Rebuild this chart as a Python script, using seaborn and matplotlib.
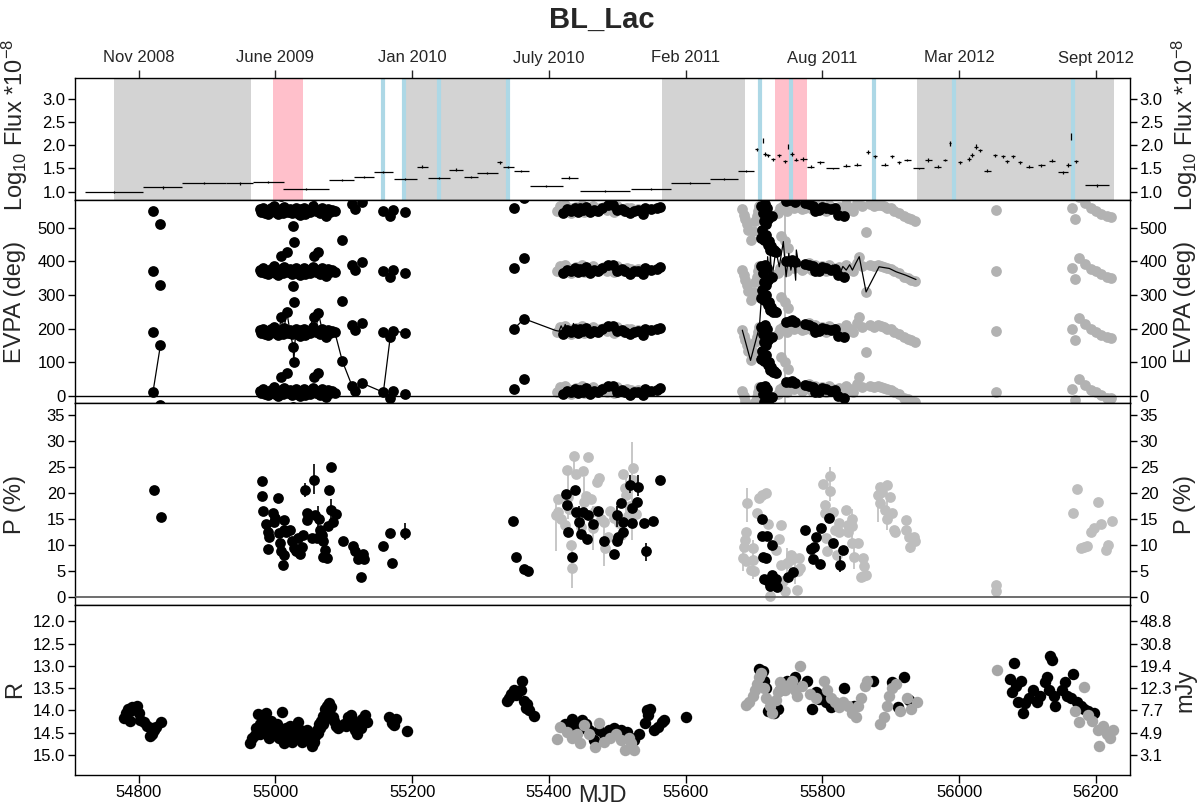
import numpy as np
import pandas as pd
import matplotlib
matplotlib.use("Agg")
import matplotlib.pyplot as plt
import seaborn as sns

# ---------------- axes / labels ----------------
mjd_ticks = [54800, 55000, 55200, 55400, 55600, 55800, 56000, 56200]
date_labels = ["Nov 2008", "June 2009", "Jan 2010", "July 2010",
               "Feb 2011", "Aug 2011", "Mar 2012", "Sept 2012"]
flux_ticks = [1.0, 1.5, 2.0, 2.5, 3.0]
evpa_ticks = [0, 100, 200, 300, 400, 500]
p_ticks = [0, 5, 10, 15, 20, 25, 30, 35]
r_ticks = [12.0, 12.5, 13.0, 13.5, 14.0, 14.5, 15.0]
mjy_labels = ["48.8", "30.8", "19.4", "12.3", "7.7", "4.9", "3.1"]

# ---------------- shaded periods (flux panel) ----------------
grey_start = [54764, 55190, 55566, 55939]
grey_end = [54964, 55339, 55687, 56226]
pink_start = [54996, 55731]
pink_end = [55041, 55778]
blue_lines = [55157, 55188, 55239, 55341, 55709, 55754, 55875, 55992, 56166]

# ---------------- gamma-ray flux ----------------
flux_mjd = [54764, 54835, 54896, 54948, 54990, 55045, 55097, 55130, 55158, 55190, 55215, 55240, 55264,
            55286, 55310, 55328, 55341, 55360, 55396, 55430, 55482, 55549, 55607, 55656, 55688,
            55704, 55713, 55716, 55721, 55728, 55737, 55745, 55750, 55755, 55762, 55772, 55783, 55797,
            55815, 55835, 55851, 55867, 55877, 55891, 55902, 55912, 55924, 55941, 55955, 55969, 55980,
            55987, 56002, 56014, 56019, 56025, 56030, 56041, 56053, 56064, 56070, 56079, 56089, 56103,
            56120, 56136, 56152, 56160, 56164, 56171, 56202]
flux_val = [1.00, 1.09, 1.19, 1.18, 1.21, 1.05, 1.25, 1.31, 1.42, 1.27, 1.54, 1.30, 1.47, 1.31, 1.40,
            1.63, 1.53, 1.45, 1.13, 1.30, 1.01, 1.06, 1.19, 1.27, 1.44,
            1.91, 2.10, 1.81, 1.78, 1.70, 1.78, 1.65, 1.97, 1.81, 1.69, 1.71, 1.54, 1.63, 1.50, 1.56,
            1.58, 1.86, 1.76, 1.58, 1.76, 1.63, 1.68, 1.50, 1.68, 1.54, 1.68, 2.04, 1.63, 1.70, 1.79,
            1.97, 1.89, 1.45, 1.78, 1.76, 1.65, 1.76, 1.63, 1.54, 1.57, 1.67, 1.42, 1.58, 2.19, 1.65, 1.14]
flux_half = [42, 29, 32, 20, 22, 34, 18, 15, 14, 17, 8, 16, 10, 10, 15, 4, 8, 11, 24, 12, 37, 29, 29, 20, 12,
             2, 0, 3, 3, 3, 3, 3, 0, 3, 3, 5, 5, 5, 10, 5, 5, 3, 3, 5, 3, 3, 5, 8, 5, 5, 3, 1, 3, 3, 3,
             3, 3, 5, 3, 3, 3, 3, 3, 5, 5, 4, 8, 4, 0, 3, 18]
flux_err = [0.02, 0.03, 0.02, 0.03, 0.02, 0.02, 0.03, 0.02, 0.02, 0.02, 0.03, 0.02, 0.03, 0.02, 0.02,
            0.04, 0.02, 0.02, 0.02, 0.03, 0.02, 0.02, 0.02, 0.02, 0.02,
            0.04, 0.06, 0.04, 0.04, 0.03, 0.04, 0.04, 0.05, 0.04, 0.04, 0.04, 0.03, 0.03, 0.02, 0.03,
            0.03, 0.04, 0.04, 0.03, 0.04, 0.03, 0.03, 0.02, 0.04, 0.03, 0.03, 0.05, 0.03, 0.04, 0.04,
            0.05, 0.04, 0.03, 0.04, 0.04, 0.04, 0.04, 0.04, 0.03, 0.03, 0.03, 0.03, 0.04, 0.08, 0.04, 0.03]

# ---------------- EVPA (degrees, modulo 180) ----------------
evpa_b_mjd = [54821, 54832,
              54977, 54979, 54982, 54985, 54988, 54990, 54993, 54996, 54998, 55000, 55002, 55004, 55006,
              55008, 55009, 55011, 55013, 55015, 55017, 55019, 55021, 55024, 55026, 55027, 55028, 55030,
              55032, 55034, 55036, 55038, 55040, 55042, 55044, 55047, 55050, 55052, 55055, 55057, 55059,
              55062, 55063, 55065, 55068, 55071, 55074, 55077, 55080, 55083, 55087, 55098, 55112, 55117,
              55127, 55158, 55168, 55172, 55190,
              55349, 55364, 55420, 55426, 55432, 55438, 55442, 55446, 55450, 55455, 55460, 55466, 55472,
              55478, 55486, 55494, 55500, 55507, 55512, 55518, 55524, 55530, 55538, 55541, 55550, 55558, 55563,
              55710, 55711, 55712, 55713, 55714, 55715, 55716, 55717, 55718, 55719, 55720, 55721, 55722,
              55724, 55725, 55726, 55728, 55730, 55732, 55747, 55752, 55756, 55760, 55775, 55780, 55786,
              55790, 55795, 55800, 55806, 55812, 55818, 55823, 55832]
evpa_b = [10, 151,
          15, 8, 20, 5, 12, 2, 18, 10, 25, 6, 14, 0, 9, 17, 55, 4, 22, 11, 68, 7, 16, 3, 146, 99, 12, 20,
          5, 10, 178, 15, 8, 19, 2, 12, 6, 17, 24, 55, 9, 14, 67, 3, 20, 11, 176, 16, 7, 13, 9, 103, 30, 15,
          37, 10, 174, 14, 6,
          19, 49, 5, 15, 10, 20, 8, 18, 12, 22, 6, 14, 10, 20, 28, 28, 12, 17, 10, 3, 10, 12, 2, 20, 15, 18, 22,
          25, 110, 134, 5, 160, 104, 30, 150, 120, 20, 90, 165, 100, 75, 85, 175, 70, 73, 68, 40, 42, 45,
          38, 33, 30, 25, 10, 12, 23, 20, 15, 18, 179, 174]
evpa_g_mjd = [55412, 55416, 55420, 55424, 55428, 55432, 55436, 55440, 55444, 55448, 55452, 55456, 55461,
              55465, 55470, 55475, 55480, 55485, 55490, 55495, 55500, 55505, 55510, 55515, 55520, 55525, 55530,
              55683, 55685, 55687, 55690, 55692, 55695, 55698, 55701, 55704, 55706, 55708, 55735, 55738,
              55740, 55742, 55745, 55748, 55750, 55752, 55755, 55758, 55762, 55766, 55770, 55775, 55780,
              55785, 55790, 55795, 55800, 55805, 55810, 55815, 55820, 55825, 55830, 55835, 55840, 55845,
              55850, 55854, 55858, 55864, 55870, 55875, 55882, 55886, 55890, 55895, 55900, 55905, 55912,
              55920, 55925, 55930, 55936,
              56054, 56165, 56170, 56176, 56184, 56193, 56201, 56208, 56216, 56222]
evpa_g = [10, 25, 15, 28, 20, 5, 18, 22, 12, 28, 8, 20, 15, 25, 10, 18, 22, 12, 20, 8, 25, 15, 10, 20, 18, 12, 16,
          15, 178, 165, 150, 133, 105, 130, 160, 175, 10, 25, 5, 20, 115, 25, 100, 10, 80, 40, 35, 20, 30,
          25, 15, 20, 35, 15, 30, 20, 25, 10, 28, 20, 15, 22, 18, 30, 20, 10, 35, 54, 25, 129, 30, 25, 29,
          27, 24, 20, 18, 11, 5, 174, 170, 165, 161,
          12, 20, 167, 51, 33, 18, 11, 1, 174, 172]
evpa_g_bar_mjd = [55745, 55750, 55740, 55864, 56054, 55854, 55766]
evpa_g_bar_center = [100, 80, 115, 129, 12, 54, 25]
evpa_g_bar_err = [90, 15, 12, 10, 10, 6, 20]

# unwrapped EVPA track (black line), segment id per point
line_seg = [0] * 2 + [1] * 33 + [2] * 32 + [3] * 45
line_mjd = [54821, 54832,
            54977, 54982, 54985, 54988, 54990, 54996, 55000, 55004, 55009, 55011, 55017, 55021, 55026,
            55027, 55030, 55036, 55040, 55047, 55057, 55059, 55063, 55068, 55074, 55080, 55087, 55098,
            55112, 55117, 55127, 55158, 55168, 55172, 55190,
            55349, 55364, 55410, 55415, 55418, 55421, 55424, 55427, 55430, 55433, 55436, 55440, 55443,
            55447, 55450, 55455, 55460, 55465, 55470, 55478, 55485, 55494, 55500, 55507, 55515, 55524,
            55532, 55538, 55545, 55550, 55558, 55563,
            55683, 55695, 55708, 55713, 55715, 55719, 55720, 55723, 55724, 55726, 55730, 55732, 55737,
            55743, 55747, 55751, 55754, 55758, 55761, 55762, 55766, 55771, 55776, 55781, 55786, 55791,
            55796, 55800, 55805, 55810, 55815, 55820, 55825, 55830, 55835, 55840, 55844, 55849, 55854,
            55864, 55883, 55898, 55908, 55922, 55937]
line_evpa = [10, 151,
             195, 200, 185, 192, 182, 190, 186, 180, 235, 184, 248, 196, 146, 99, 200, 178, 188, 192, 235,
             189, 247, 200, 176, 187, 189, 103, 30, 15, 37, 10, 174, 194, 186,
             199, 229, 194, 192, 208, 195, 212, 190, 205, 188, 215, 196, 207, 192, 210, 198, 188, 205, 195,
             200, 208, 205, 195, 197, 190, 190, 185, 182, 190, 195, 198, 202,
             195, 105, 205, 355, 394, 314, 414, 334, 424, 344, 404, 434, 384, 459, 354, 424, 374, 414, 344,
             434, 384, 398, 394, 380, 389, 372, 379, 392, 374, 368, 389, 380, 359, 385, 374, 390, 374, 395,
             414, 309, 384, 379, 369, 359, 346]

# ---------------- polarization degree (%) ----------------
p_b_mjd = [54822, 54833, 54980, 54980, 54982, 54987, 54989, 54991, 54990, 54996, 54998, 55000, 55004,
           55005, 55007, 55008, 55011, 55012, 55013, 55012, 55016, 55022, 55025, 55028, 55030, 55033, 55036,
           55039, 55041, 55044, 55046, 55047, 55053, 55057, 55058, 55061, 55064, 55066, 55068, 55070, 55070,
           55072, 55075, 55077, 55079, 55081, 55082, 55084, 55088, 55099, 55113, 55116, 55121, 55126, 55128,
           55129, 55157, 55168, 55171, 55190,
           55347, 55352, 55363, 55369, 55425, 55426, 55428, 55434, 55438, 55440, 55444, 55447, 55450, 55456,
           55458, 55465, 55472, 55480, 55495, 55499, 55501, 55505, 55499, 55508, 55509, 55518, 55522, 55522,
           55529, 55530, 55539, 55542, 55553, 55562,
           55712, 55712, 55719, 55713, 55718, 55726, 55715, 55720, 55726, 55723, 55732, 55733, 55750, 55757,
           55774, 55783, 55786, 55788, 55791, 55796, 55798, 55810, 55816, 55830, 55826]
p_b = [20.6, 15.4, 22.3, 19.5, 16.6, 14.1, 12.5, 11.5, 9.2, 16.2, 14.5, 15.3, 19.0, 12.3, 10.4, 8.8, 6.1,
       8.1, 14.8, 12.9, 12.6, 12.9, 10.7, 9.4, 8.8, 11.3, 8.3, 9.7, 12.0, 20.6, 16.1, 14.8, 11.3, 22.5, 15.8,
       11.3, 15.0, 12.9, 12.0, 10.7, 7.8, 9.1, 7.5, 13.7, 20.6, 16.7, 25.0, 14.5, 15.9, 10.7, 9.9, 8.8, 7.3,
       3.8, 8.3, 7.4, 9.9, 12.4, 6.6, 12.4,
       14.6, 7.8, 5.5, 5.1, 19.8, 17.7, 12.6, 7.8, 20.6, 16.3, 14.4, 12.1, 16.4, 11.1, 15.7, 14.1, 16.6,
       10.7, 8.3, 10.7, 11.5, 18.0, 15.7, 14.5, 12.6, 21.6, 17.1, 14.2, 18.3, 21.2, 14.2, 8.8, 14.7, 22.6,
       15.0, 11.8, 11.8, 7.8, 7.5, 10.1, 3.4, 3.1, 4.3, 2.2, 3.4, 1.9, 3.8, 4.8, 12.9, 9.3, 7.4, 9.7, 11.6,
       6.4, 13.2, 15.3, 10.5, 9.0, 6.2]
p_g_mjd = [55411, 55413, 55414, 55423, 55426, 55428, 55432, 55434, 55437, 55440, 55450, 55452, 55458,
           55461, 55464, 55470, 55474, 55480, 55482, 55502, 55509, 55512, 55513, 55516, 55523, 55523,
           55418, 55430, 55443, 55447, 55455, 55467, 55476, 55486, 55490, 55495, 55505, 55519, 55527,
           55690, 55689, 55687, 55685, 55684, 55688, 55695, 55698, 55700, 55698, 55708, 55712, 55718, 55705,
           55720, 55724, 55739, 55737, 55732, 55740, 55745, 55743, 55748, 55754, 55752, 55759, 55763, 55765,
           55766, 55768, 55801, 55811, 55811, 55804, 55804, 55806, 55807, 55816, 55818, 55821, 55824, 55825,
           55835, 55837, 55838, 55843, 55844, 55843, 55847, 55852, 55860, 55861, 55860, 55864, 55856, 55882,
           55885, 55888, 55885, 55891, 55894, 55895, 55899, 55902, 55905, 55906, 55922, 55923, 55927, 55928,
           55934, 55936,
           56054, 56054, 56167, 56172, 56178, 56182, 56187, 56193, 56197, 56203, 56208, 56215, 56218, 56224]
p_g = [15.8, 16.4, 18.8, 13.9, 24.4, 19.3, 10.1, 5.6, 27.2, 23.7, 24.2, 18.3, 26.9, 18.8, 13.2, 22.2, 22.8,
       14.5, 9.4, 14.2, 23.7, 20.9, 19.6, 15.5, 24.8, 22.5,
       15.0, 17.0, 16.0, 13.5, 19.5, 16.5, 15.0, 11.5, 16.5, 15.2, 12.0, 17.5, 16.0,
       18.0, 12.6, 11.0, 9.7, 7.5, 6.9, 5.3, 9.4, 5.0, 7.2, 19.0, 19.6, 20.1, 16.1, 14.1, 0.2, 13.9, 11.2,
       9.1, 6.2, 1.1, 3.1, 6.6, 8.1, 7.2, 7.5, 1.3, 5.0, 7.5, 5.6, 21.8, 23.2, 20.4, 17.7, 16.1, 11.3, 8.9,
       16.4, 12.9, 8.1, 14.2, 12.6, 16.7, 13.9, 12.6, 15.0, 13.6, 10.4, 7.8, 10.4, 7.5, 5.9, 4.0, 4.3, 3.8,
       19.6, 21.2, 20.2, 18.0, 16.7, 15.1, 21.5, 19.3, 16.1, 12.9, 12.5, 14.8, 12.9, 11.5, 9.7, 11.5, 10.7,
       2.4, 1.1, 16.1, 20.8, 9.4, 9.7, 9.9, 12.6, 13.2, 18.2, 14.0, 9.1, 10.1, 14.6]
p_b_bar_mjd = [55044, 55057, 55062, 55082, 55190, 55369, 55518, 55530, 55542, 55826, 55444, 55499]
p_b_bar_lo = [19.3, 19.8, 11.0, 14.0, 11.0, 4.0, 20.0, 19.5, 7.0, 4.8, 13.0, 13.5]
p_b_bar_hi = [22.0, 25.6, 17.5, 18.8, 14.2, 5.8, 23.5, 23.5, 10.5, 8.0, 17.5, 17.5]
p_g_bar_mjd = [55411, 55428, 55434, 55437, 55452, 55464, 55480, 55513, 55522, 55684, 55690, 55698, 55748,
               55760, 55811, 55843, 55847, 55882, 55894, 55928]
p_g_bar_lo = [8.8, 15.0, 1.8, 23.5, 14.0, 9.0, 6.0, 15.0, 11.0, 5.0, 14.5, 3.5, 3.5, 2.5, 18.5, 10.0, 5.5,
              14.5, 13.0, 8.5]
p_g_bar_hi = [19.0, 24.0, 9.5, 27.5, 23.0, 17.5, 15.5, 24.0, 29.8, 11.0, 21.0, 11.0, 9.5, 8.5, 25.0, 17.0,
              10.0, 22.0, 18.5, 13.0]

# ---------------- R magnitude ----------------
r_b_mjd = [54779, 54782, 54785, 54788, 54791, 54794, 54797, 54800, 54788, 54802, 54808, 54813, 54816,
           54819, 54819, 54822, 54825, 54833,
           54963, 54966, 54972, 54974, 54977, 54980, 54983, 54986, 54988, 54991, 54994, 54997, 55000, 55002,
           55005, 55008, 55010, 55012, 55015, 55019, 55022, 55025, 55028, 55030, 55033, 55036, 55039, 55042,
           55044, 55047, 55051, 55054, 55058, 55061, 55064, 55067, 55070, 55072, 55075, 55078, 55081, 55084,
           55086, 55089, 55095, 55100, 55107, 55110, 55114, 55117, 55120, 55123, 55127, 55131, 55134,
           54970, 54978, 54984, 54990, 54996, 55003, 55006, 55013, 55017, 55021, 55027, 55032, 55040, 55046,
           55049, 55056, 55062, 55066, 55069, 55073, 55077, 55080, 55092, 55104, 55112, 55118, 55125, 55129,
           55166, 55171, 55174, 55176, 55192,
           55339, 55342, 55344, 55349, 55352, 55354, 55359, 55361, 55363, 55366, 55368, 55371, 55378,
           55424, 55434, 55441, 55449, 55451, 55459, 55466, 55473, 55480, 55488, 55495, 55500, 55505, 55510,
           55515, 55520, 55524, 55532, 55541, 55544, 55545, 55548, 55554, 55559, 55565, 55568, 55600, 55429,
           55455, 55490,
           55707, 55713, 55715, 55718, 55720, 55724, 55729, 55735, 55738, 55743, 55749, 55754, 55760, 55763,
           55777, 55785, 55788, 55791, 55795, 55796, 55799, 55802, 55805, 55813, 55832, 55846, 55874, 55902,
           55910, 55919, 55927,
           56075, 56077, 56080, 56083, 56086, 56091, 56094, 56097, 56102, 56108, 56114, 56119, 56125, 56128,
           56133, 56136, 56131, 56139, 56141, 56150, 56155, 56158, 56164, 56167, 56172, 56178, 56183, 56189,
           56197]
r_b = [14.16, 14.06, 13.97, 14.01, 13.93, 13.97, 13.91, 14.06, 14.23, 14.21, 14.27, 14.36, 14.57, 14.40,
       14.53, 14.44, 14.38, 14.25,
       14.74, 14.61, 14.40, 14.07, 14.53, 14.23, 14.36, 14.06, 14.49, 14.61, 14.23, 14.40, 14.53, 14.31,
       14.61, 14.44, 14.04, 14.74, 14.40, 14.57, 14.36, 14.70, 14.44, 14.57, 14.27, 14.44, 14.70, 14.53,
       14.57, 14.44, 14.66, 14.79, 14.57, 14.44, 14.31, 14.23, 14.13, 13.97, 13.89, 13.84, 13.93, 14.14,
       14.23, 14.36, 14.36, 14.31, 14.14, 14.10, 14.27, 14.44, 14.53, 14.31, 14.19, 14.10, 14.27,
       14.55, 14.30, 14.45, 14.35, 14.55, 14.45, 14.50, 14.55, 14.62, 14.48, 14.58, 14.62, 14.60, 14.62,
       14.52, 14.70, 14.50, 14.40, 14.30, 14.20, 14.05, 13.95, 14.40, 14.35, 14.20, 14.35, 14.40, 14.25,
       14.15, 14.28, 14.33, 14.19, 14.47,
       13.79, 13.72, 13.64, 13.55, 13.66, 13.59, 13.55, 13.34, 13.79, 13.94, 13.85, 13.98, 14.13,
       14.30, 14.19, 14.32, 14.22, 14.40, 14.44, 14.66, 14.44, 14.53, 14.44, 14.40, 14.49, 14.44, 14.53,
       14.49, 14.62, 14.66, 14.53, 14.28, 13.98, 14.11, 13.97, 14.44, 14.38, 14.27, 14.21, 14.14, 14.35,
       14.30, 14.50,
       13.07, 13.11, 13.33, 13.50, 14.02, 13.97, 14.06, 13.97, 13.54, 13.46, 13.33, 13.46, 13.24, 13.46,
       13.33, 13.97, 13.62, 13.59, 13.75, 13.71, 13.70, 13.63, 13.80, 13.93, 13.50, 13.89, 13.33, 13.37,
       13.93, 13.24, 13.76,
       13.29, 13.59, 12.94, 13.46, 13.80, 13.33, 14.06, 13.84, 13.71, 13.54, 13.80, 13.67, 13.37, 13.24,
       12.77, 12.86, 13.54, 13.67, 13.90, 13.54, 13.37, 13.67, 13.71, 13.18, 13.80, 13.90, 13.97, 14.01,
       14.06]
r_g_mjd = [55412, 55417, 55427, 55434, 55441, 55446, 55451, 55459, 55468, 55473, 55480, 55490, 55498,
           55505, 55512, 55517, 55520, 55524,
           55689, 55693, 55699, 55701, 55704, 55707, 55710, 55715, 55718, 55724, 55726, 55732, 55735, 55738,
           55740, 55746, 55752, 55755, 55760, 55767, 55763, 55771, 55782, 55791, 55802, 55807, 55813, 55818,
           55824, 55830, 55838, 55843, 55849, 55852, 55857, 55863, 55866, 55884, 55890, 55894, 55897, 55902,
           55908, 55913, 55924, 55930, 55938,
           56056, 56169, 56175, 56183, 56189, 56194, 56203, 56205, 56211, 56217, 56221, 56225]
r_g = [14.65, 14.37, 14.49, 14.62, 14.53, 14.73, 14.32, 14.53, 14.83, 14.28, 14.70, 14.62, 14.53, 14.66,
       14.88, 14.62, 14.74, 14.88,
       13.87, 13.80, 13.67, 13.54, 13.41, 13.24, 13.16, 13.50, 13.71, 13.89, 14.06, 13.76, 13.59, 13.37,
       13.46, 13.54, 13.41, 13.33, 13.54, 13.01, 13.67, 13.46, 13.63, 13.71, 13.33, 13.54, 13.71, 13.80,
       13.93, 13.80, 13.89, 14.06, 14.14, 13.89, 13.71, 13.46, 13.33, 14.31, 14.14, 13.89, 13.67, 13.50,
       13.41, 14.01, 13.73, 13.97, 13.80,
       13.10, 14.01, 14.27, 13.47, 14.10, 14.23, 14.44, 14.79, 14.36, 14.53, 14.61, 14.44]

# ---------------- style ----------------
sns.set_theme(style="white")
plt.rcParams["font.family"] = ["Liberation Sans", "DejaVu Sans"]
plt.rcParams["mathtext.fontset"] = "custom"
plt.rcParams["mathtext.rm"] = "Liberation Sans"
plt.rcParams["mathtext.it"] = "Liberation Sans:italic"
plt.rcParams["mathtext.bf"] = "Liberation Sans:bold"

W_PX, H_PX = 1199, 806
XMIN, XMAX = 54707, 56250
TICK_FS = 12
LAB_FS = 17
DOT = 60
DOT_R = 68
BLACK = "black"
GREY_E = "#B2B2B2"
GREY_P = "#BEBEBE"
GREY_R = "#A6A6A6"

fig = plt.figure(figsize=(W_PX / 100, H_PX / 100), dpi=100)


def add_panel(top, bottom):
    return fig.add_axes([75 / W_PX, 1 - bottom / H_PX, 1055 / W_PX, (bottom - top) / H_PX])


ax_f = add_panel(78, 200)
ax_e = add_panel(200, 403)
ax_p = add_panel(403, 605)
ax_r = add_panel(605, 775)


def style(ax, yticks, ylim, fmt, right_labels=True):
    ax.set_facecolor("white")
    ax.set_xlim(XMIN, XMAX)
    ax.set_ylim(*ylim)
    ax.set_yticks(yticks)
    ax.set_yticklabels([fmt.format(v) for v in yticks])
    for s in ax.spines.values():
        s.set_color("black")
        s.set_linewidth(1.0)
    ax.tick_params(axis="y", direction="out", length=5, width=1, colors="black",
                   labelsize=TICK_FS, left=True, right=True, labelleft=True,
                   labelright=right_labels, pad=2)
    ax.tick_params(axis="x", bottom=False, top=False, labelbottom=False, labeltop=False)
    ax.set_xlabel("")
    ax.set_ylabel("")
    ax.grid(False)


def side_labels(ax, text, ycenter=0.5, right_text=None):
    ax.text(-60 / 1055, ycenter, text, transform=ax.transAxes, rotation=90,
            ha="center", va="center", fontsize=LAB_FS)
    ax.text(1 + 55 / 1055, ycenter, right_text if right_text else text, transform=ax.transAxes,
            rotation=90, ha="center", va="center", fontsize=LAB_FS)


# ---- flux panel ----
for a, b in zip(grey_start, grey_end):
    ax_f.axvspan(a, b, color="#D3D3D3", lw=0, zorder=0)
for a, b in zip(pink_start, pink_end):
    ax_f.axvspan(a, b, color="#FFC0CB", lw=0, zorder=0.5)
for m in blue_lines:
    ax_f.axvline(m, color="#ADD8E6", lw=3, zorder=1)
ax_f.errorbar(flux_mjd, flux_val, xerr=flux_half, yerr=flux_err, fmt="none",
              ecolor="black", elinewidth=0.9, capsize=0, zorder=3)
style(ax_f, flux_ticks, (0.82, 3.45), "{:.1f}")
ax_f.set_xticks(mjd_ticks)
ax_f.set_xticklabels(date_labels)
ax_f.tick_params(axis="x", top=True, labeltop=True, bottom=False, labelbottom=False,
                 direction="out", length=6, width=1, labelsize=TICK_FS, pad=3)
side_labels(ax_f, "Log$_{10}$ Flux *10$^{-8}$", ycenter=0.62)


# ---- EVPA panel ----
def replicate(mjd, ang):
    parts = [pd.DataFrame({"mjd": mjd, "evpa": np.asarray(ang, float) + 180 * k}) for k in range(-1, 4)]
    return pd.concat(parts, ignore_index=True)


df_eg = replicate(evpa_g_mjd, evpa_g)
df_eb = replicate(evpa_b_mjd, evpa_b)
for k in range(-1, 4):
    ax_e.errorbar(evpa_g_bar_mjd, np.asarray(evpa_g_bar_center) + 180 * k, yerr=evpa_g_bar_err,
                  fmt="none", ecolor=GREY_E, elinewidth=1.2, capsize=0, zorder=1)
sns.scatterplot(data=df_eg, x="mjd", y="evpa", ax=ax_e, color=GREY_E, s=DOT, linewidth=0,
                legend=False, zorder=2)
sns.scatterplot(data=df_eb, x="mjd", y="evpa", ax=ax_e, color=BLACK, s=DOT, linewidth=0,
                legend=False, zorder=3)
df_line = pd.DataFrame({"mjd": line_mjd, "evpa": line_evpa, "seg": line_seg})
sns.lineplot(data=df_line, x="mjd", y="evpa", units="seg", estimator=None, sort=False,
             color="black", lw=0.9, ax=ax_e, legend=False, zorder=4)
ax_e.axhline(0, color="black", lw=1.0, zorder=5)
style(ax_e, evpa_ticks, (-22, 583), "{:d}")
side_labels(ax_e, "EVPA (deg)")

# ---- P panel ----
ax_p.vlines(p_g_bar_mjd, p_g_bar_lo, p_g_bar_hi, color=GREY_P, lw=1.2, zorder=1)
sns.scatterplot(x=p_g_mjd, y=p_g, ax=ax_p, color=GREY_P, s=DOT, linewidth=0, legend=False, zorder=2)
ax_p.vlines(p_b_bar_mjd, p_b_bar_lo, p_b_bar_hi, color="black", lw=1.2, zorder=3)
sns.scatterplot(x=p_b_mjd, y=p_b, ax=ax_p, color=BLACK, s=DOT, linewidth=0, legend=False, zorder=4)
ax_p.axhline(0, color="#555555", lw=1.2, zorder=5)
style(ax_p, p_ticks, (-1.5, 37.3), "{:d}")
side_labels(ax_p, "P (%)")

# ---- R panel ----
sns.scatterplot(x=r_b_mjd, y=r_b, ax=ax_r, color=BLACK, s=DOT_R, linewidth=0, legend=False, zorder=2)
sns.scatterplot(x=r_g_mjd, y=r_g, ax=ax_r, color=GREY_R, s=DOT_R, linewidth=0, legend=False, zorder=3)
style(ax_r, r_ticks, (15.45, 11.63), "{:.1f}", right_labels=False)
ax_r.set_xticks(mjd_ticks)
ax_r.set_xticklabels([str(m) for m in mjd_ticks])
ax_r.tick_params(axis="x", bottom=True, labelbottom=True, direction="out", length=6, width=1,
                 labelsize=TICK_FS, pad=1, colors="black")
ax_r.tick_params(axis="y", right=False)
ax_r2 = ax_r.twinx()
ax_r2.set_ylim(15.45, 11.63)
ax_r2.set_yticks(r_ticks)
ax_r2.set_yticklabels(mjy_labels)
ax_r2.tick_params(axis="y", direction="out", length=5, width=1, colors="black",
                  labelsize=TICK_FS, right=True, labelright=True, pad=2)
ax_r2.grid(False)
for s in ax_r2.spines.values():
    s.set_visible(False)
side_labels(ax_r, "R", right_text="mJy")

# ---- titles ----
fig.text(602 / W_PX, 1 - 20 / H_PX, "BL_Lac", ha="center", va="center", fontsize=21, fontweight="bold")
fig.text(602 / W_PX, 1 - 796 / H_PX, "MJD", ha="center", va="center", fontsize=LAB_FS)

fig.savefig("out.png", dpi=100)
